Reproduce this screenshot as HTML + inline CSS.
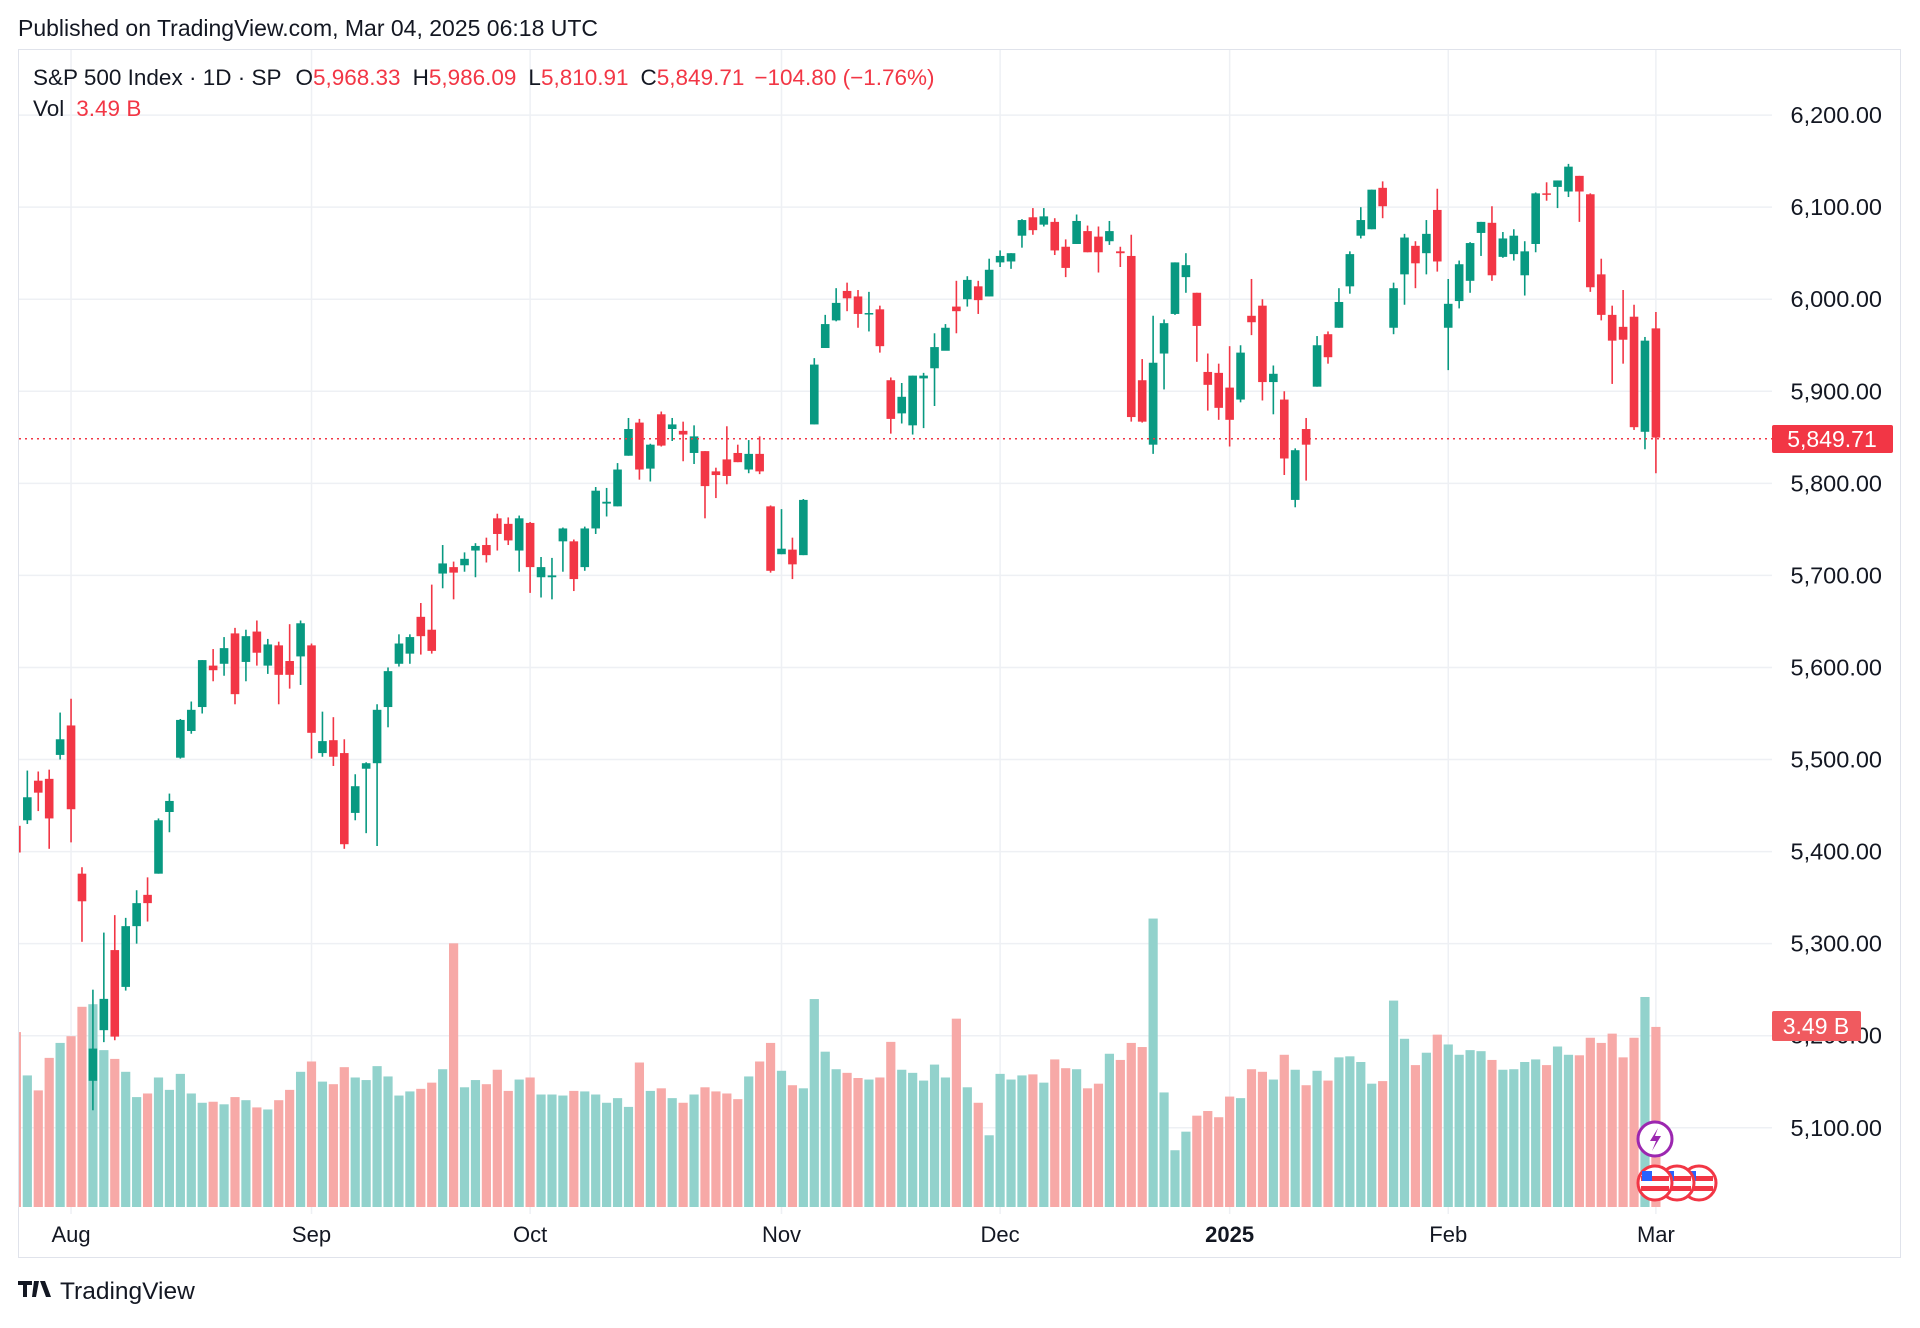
<!DOCTYPE html>
<html><head><meta charset="utf-8">
<style>
html,body{margin:0;padding:0;background:#fff;}
body{width:1920px;height:1323px;overflow:hidden;font-family:"Liberation Sans",sans-serif;}
svg text{font-family:"Liberation Sans",sans-serif;}
</style></head>
<body>
<svg id="chart" width="1920" height="1323" viewBox="0 0 1920 1323" xmlns="http://www.w3.org/2000/svg">
  <text x="18" y="36" font-size="23" fill="#131722">Published on TradingView.com, Mar 04, 2025 06:18 UTC</text>
  <rect x="18.5" y="49.5" width="1882" height="1208" fill="#fff" stroke="#e0e3eb"/>
  <g id="grid"></g>
  <g id="vol"></g>
  <g id="candles"></g>
  <line x1="19" x2="1772" y1="438.7" y2="438.7" stroke="#f23645" stroke-width="1.5" stroke-dasharray="2 4"/>
  <g id="yaxis"></g>
  <g id="xaxis"></g>
  <g>
    <rect x="1772" y="425" width="121" height="28" rx="2" fill="#f23645"/>
    <text x="1832" y="447" font-size="23" fill="#fff" text-anchor="middle">5,849.71</text>
  </g>
  <g>
    <rect x="1772" y="1011" width="89" height="30" rx="2" fill="#f05a5f"/>
    <text x="1816" y="1034" font-size="23" fill="#fff" text-anchor="middle">3.49 B</text>
  </g>
  <text x="33" y="85" font-size="22.5" fill="#131722">S&amp;P 500 Index · 1D · SP<tspan dx="14">O</tspan><tspan fill="#f23645">5,968.33</tspan><tspan dx="12">H</tspan><tspan fill="#f23645">5,986.09</tspan><tspan dx="12">L</tspan><tspan fill="#f23645">5,810.91</tspan><tspan dx="12">C</tspan><tspan fill="#f23645">5,849.71</tspan><tspan dx="10" fill="#f23645">−104.80 (−1.76%)</tspan></text>
  <text x="33" y="116" font-size="22.5" fill="#131722">Vol<tspan dx="12" fill="#f23645">3.49 B</tspan></text>
  <g>
    <circle cx="1655" cy="1139" r="17" fill="#fff" stroke="#9c27b0" stroke-width="3"/>
    <path d="M1658 1128 L1650 1141 L1656 1141 L1652 1151 L1661 1136 L1655 1136 Z" fill="#9c27b0"/>
  </g>
  <g>
    <g><circle cx="1699" cy="1183" r="17" fill="#fff" stroke="#f23645" stroke-width="3"/><rect x="1685" y="1176" width="28" height="5" fill="#f23645"/><rect x="1685" y="1186" width="28" height="5" fill="#f23645"/><rect x="1686" y="1171" width="10" height="10" fill="#2962ff"/></g>
    <g><circle cx="1677" cy="1183" r="17" fill="#fff" stroke="#f23645" stroke-width="3"/><rect x="1663" y="1176" width="28" height="5" fill="#f23645"/><rect x="1663" y="1186" width="28" height="5" fill="#f23645"/><rect x="1664" y="1171" width="10" height="10" fill="#2962ff"/></g>
    <g><circle cx="1655" cy="1183" r="17" fill="#fff" stroke="#f23645" stroke-width="3"/><rect x="1641" y="1176" width="28" height="5" fill="#f23645"/><rect x="1641" y="1186" width="28" height="5" fill="#f23645"/><rect x="1642" y="1171" width="10" height="10" fill="#2962ff"/></g>
  </g>
  <g>
    <path d="M18 1281 h14 v4 h-5 v12 h-4 v-12 h-5 z M34 1281 h5 l-3 16 h-4 z M40 1281 h5 l6 16 h-5 z" fill="#131722"/>
    <text x="60" y="1299" font-size="24.5" fill="#131722">TradingView</text>
  </g>
</svg>
<script>
const opens  = [5428,5434,5477,5479,5505,5537,5376,5151,5206,5293,5253,5319,5353,5376,5443,5502,5531,5557,5602,5604,5637,5606,5639,5602,5624,5607,5612,5624,5507,5521,5507,5442,5490,5496,5557,5604,5615,5655,5641,5702,5709,5711,5727,5733,5762,5756,5727,5757,5698,5698,5737,5737,5709,5751,5778,5775,5830,5866,5816,5875,5859,5857,5833,5835,5813,5826,5833,5815,5832,5775,5723,5728,5722,5864,5947,5977,6009,6003,5985,5989,5912,5876,5863,5914,5925,5944,5992,6000,6014,6003,6040,6041,6069,6089,6081,6084,6057,6060,6074,6068,6063,6052,6047,5912,5842,5941,5984,6024,6007,5921,5920,5904,5891,5982,5993,5910,5891,5782,5859,5905,5962,5969,6014,6069,6076,6121,5969,6027,6058,6050,6097,5969,5998,6020,6072,6083,6046,6049,6026,6060,6115,6122,6117,6134,6114,6027,5983,5970,5981,5856,5968.33];
const highs  = [5491,5488,5487,5489,5551,5566,5383,5250,5312,5331,5328,5358,5372,5436,5463,5544,5563,5608,5620,5633,5643,5641,5651,5631,5628,5647,5651,5626,5552,5546,5522,5484,5497,5560,5600,5636,5636,5670,5690,5733,5715,5725,5735,5741,5767,5763,5765,5758,5720,5719,5752,5739,5753,5796,5795,5822,5871,5870,5843,5878,5871,5867,5863,5835,5817,5862,5842,5847,5851,5776,5772,5741,5783,5936,5983,6012,6018,6010,6008,5993,5915,5909,5917,5920,5963,5973,6020,6025,6020,6044,6053,6050,6087,6099,6099,6088,6065,6092,6080,6079,6085,6057,6070,5935,5982,5978,6040,6050,6007,5941,5930,5949,5950,6022,6000,5928,5900,5838,5871,5960,5965,6012,6052,6100,6119,6128,6018,6071,6063,6086,6120,6022,6042,6062,6084,6101,6073,6076,6063,6116,6127,6129,6147,6134,6115,6044,5993,6010,5994,5959,5986.09];
const lows   = [5390,5430,5444,5403,5500,5410,5302,5119,5193,5195,5249,5300,5324,5376,5421,5501,5528,5550,5585,5591,5560,5585,5602,5593,5560,5577,5581,5501,5503,5493,5403,5434,5420,5406,5535,5601,5604,5614,5615,5686,5674,5704,5698,5714,5727,5733,5704,5681,5676,5674,5704,5683,5705,5745,5764,5775,5830,5804,5802,5840,5846,5824,5821,5762,5784,5799,5823,5811,5810,5703,5723,5696,5722,5864,5947,5976,5987,5969,5965,5942,5854,5865,5853,5860,5884,5945,5963,5992,5984,6003,6035,6033,6056,6070,6079,6048,6024,6060,6051,6029,6059,6035,5867,5866,5832,5902,5983,6007,5932,5879,5869,5840,5888,5961,5890,5875,5809,5774,5803,5905,5930,5969,6006,6066,6076,6088,5962,5994,6012,6027,6030,5923,5990,6007,6047,6020,6045,6042,6004,6051,6107,6099,6111,6084,6008,5977,5908,5930,5858,5837,5810.91];
const closes = [5399,5459,5464,5436,5522,5446,5346,5186,5240,5199,5319,5344,5344,5434,5455,5543,5554,5608,5597,5621,5571,5634,5616,5625,5592,5592,5648,5529,5520,5503,5408,5471,5496,5554,5596,5626,5633,5634,5618,5713,5703,5718,5732,5722,5745,5738,5762,5709,5709,5700,5751,5696,5751,5792,5780,5815,5859,5815,5842,5841,5864,5853,5851,5797,5809,5808,5823,5832,5813,5705,5729,5712,5782,5929,5973,5996,6001,5984,5985,5949,5870,5894,5917,5917,5948,5969,5987,6021,5999,6032,6047,6050,6086,6075,6090,6053,6034,6085,6051,6051,6074,6050,5872,5867,5931,5974,6040,6037,5971,5907,5882,5869,5942,5975,5910,5919,5827,5836,5842,5950,5937,5997,6049,6086,6119,6101,6012,6067,6039,6071,6041,5995,6038,6061,6084,6026,6066,6069,6052,6115,6114,6129,6144,6117,6013,5983,5955,5956,5861,5955,5849.71];
const volumes = [3.39,2.55,2.26,2.89,3.18,3.31,3.88,3.93,3.04,2.87,2.62,2.13,2.20,2.51,2.27,2.58,2.20,2.02,2.04,1.99,2.13,2.07,1.93,1.89,2.07,2.27,2.62,2.82,2.43,2.38,2.71,2.51,2.46,2.73,2.53,2.16,2.24,2.29,2.41,2.67,5.11,2.32,2.46,2.38,2.66,2.25,2.47,2.51,2.18,2.18,2.16,2.25,2.24,2.18,2.02,2.11,1.94,2.80,2.25,2.30,2.11,2.02,2.18,2.32,2.24,2.20,2.09,2.53,2.82,3.18,2.64,2.36,2.30,4.03,3.01,2.67,2.60,2.50,2.47,2.51,3.20,2.66,2.60,2.45,2.76,2.51,3.65,2.32,2.02,1.39,2.58,2.47,2.55,2.57,2.41,2.86,2.69,2.67,2.30,2.39,2.97,2.85,3.18,3.10,5.59,2.22,1.10,1.46,1.77,1.86,1.74,2.14,2.11,2.67,2.62,2.47,2.95,2.66,2.36,2.64,2.45,2.90,2.92,2.81,2.39,2.44,4.00,3.26,2.75,2.99,3.34,3.15,2.95,3.04,3.02,2.85,2.66,2.67,2.81,2.86,2.75,3.11,2.95,2.94,3.28,3.18,3.36,2.90,3.28,4.07,3.49];
const priceTicks = [5100,5200,5300,5400,5500,5600,5700,5800,5900,6000,6100,6200];
const monthLabels = ["Aug","Sep","Oct","Nov","Dec","2025","Feb","Mar"];
const monthIndex = [5,27,47,70,90,111,131,150];

const NS = "http://www.w3.org/2000/svg";
const X0 = 16.4, DX = 10.93;
const PLOT_L = 19, PLOT_R = 1772;
function xOf(i){ return X0 + i*DX; }
function yOf(p){ return 115.1 + (6200 - p)*0.9206; }
function vY(v){ return 1207 - v*51.6; }
function mk(tag, attrs, parent){
  const e = document.createElementNS(NS, tag);
  for (const k in attrs) e.setAttribute(k, attrs[k]);
  parent.appendChild(e);
  return e;
}
const svg = document.getElementById('chart');
const defs = mk('defs', {}, svg);
const cp = mk('clipPath', {id:'plotclip'}, defs);
mk('rect', {x:PLOT_L, y:50, width:PLOT_R-PLOT_L, height:1207}, cp);

const grid = document.getElementById('grid');
priceTicks.forEach(function(p){
  const l = mk('line', {x1:PLOT_L, x2:PLOT_R, y1:yOf(p), y2:yOf(p), stroke:'#eef0f4', 'stroke-width':1.5}, grid);
  
  
});
monthIndex.forEach(function(i){
  const l = mk('line', {x1:xOf(i), x2:xOf(i), y1:50, y2:1214, stroke:'#eef0f4', 'stroke-width':1.5}, grid);
  
  
});

const vol = document.getElementById('vol');
vol.setAttribute('clip-path', 'url(#plotclip)');
volumes.forEach(function(v, i){
  const up = closes[i] >= opens[i];
  const r = mk('rect', {x:xOf(i)-4.6, width:9.2, y:vY(v), height:1207-vY(v), fill: up ? '#92d2cc' : '#f7a9a7'}, vol);
  
  
});

const cg = document.getElementById('candles');
cg.setAttribute('clip-path', 'url(#plotclip)');
opens.forEach(function(o, i){
  const c = closes[i], up = c >= o;
  const col = up ? '#089981' : '#f23645';
  const g = mk('g', {}, cg);
  
  
  const x = xOf(i);
  mk('line', {x1:x, x2:x, y1:yOf(highs[i]), y2:yOf(lows[i]), stroke:col, 'stroke-width':1.6}, g);
  const top = yOf(Math.max(o,c)), bot = yOf(Math.min(o,c));
  mk('rect', {x:x-4.3, width:8.6, y:top, height:Math.max(1.5, bot-top), fill:col}, g);
});

const ya = document.getElementById('yaxis');
priceTicks.forEach(function(p){
  const t = mk('text', {x:1882, y:yOf(p)+8, 'font-size':23.5, fill:'#131722', 'text-anchor':'end'}, ya);
  
  
  t.textContent = p.toLocaleString('en-US', {minimumFractionDigits:2, maximumFractionDigits:2});
});

const xa = document.getElementById('xaxis');
monthLabels.forEach(function(m, k){
  const t = mk('text', {x:xOf(monthIndex[k]), y:1242, 'font-size':22, fill:'#131722', 'text-anchor':'middle', 'font-weight': m === '2025' ? 'bold' : 'normal'}, xa);
  
  
  t.textContent = m;
});
</script>
</body></html>
